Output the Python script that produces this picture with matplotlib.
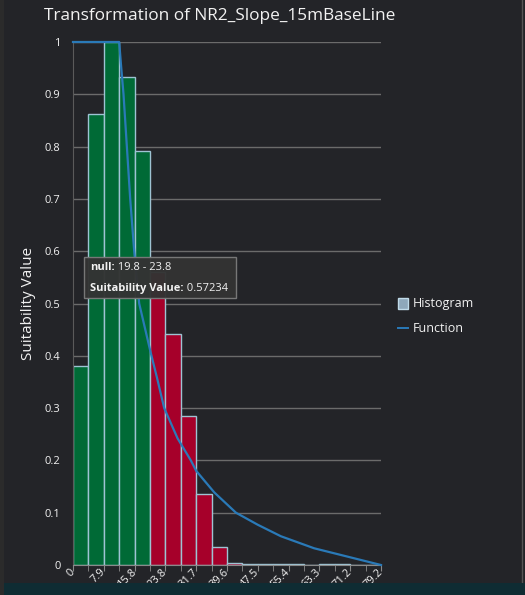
import matplotlib
matplotlib.use("Agg")
import matplotlib.pyplot as plt
from matplotlib.patches import Rectangle
from matplotlib.lines import Line2D
import numpy as np

# histogram: 20 bins over 0 - 79.2
BIN_EDGES = [0, 3.96, 7.92, 11.88, 15.84, 19.8, 23.76, 27.72, 31.68, 35.64, 39.6,
             43.56, 47.52, 51.48, 55.44, 59.4, 63.36, 67.32, 71.28, 75.24, 79.2]
BAR_HEIGHTS = [0.38, 0.862, 1.0, 0.934, 0.792, 0.56, 0.442, 0.285, 0.135, 0.034,
               0.003, 0.001, 0.001, 0.001, 0.001, 0.0, 0.001, 0.001, 0.0, 0.0]
N_GREEN = 5

# transformation function
FUNC_X = [0, 11.88, 12.3, 12.99, 13.85, 14.71, 15.74, 17.02, 19.85, 21.6, 23.45,
          26.9, 30.3, 31.68, 36.3, 41.9, 47.5, 53.45, 62.0, 70.6, 79.2]
FUNC_Y = [1.0, 1.0, 0.96, 0.9, 0.8, 0.7, 0.6, 0.5, 0.41, 0.358, 0.3,
          0.242, 0.2, 0.18, 0.139, 0.1, 0.077, 0.055, 0.032, 0.016, 0.0]

XTICKS = [0, 7.92, 15.84, 23.76, 31.68, 39.6, 47.52, 55.44, 63.36, 71.28, 79.2]
XTICK_LABELS = ["0", "7.9", "15.8", "23.8", "31.7", "39.6", "47.5", "55.4", "63.3", "71.2", "79.2"]
YTICKS = [0, 0.1, 0.2, 0.3, 0.4, 0.5, 0.6, 0.7, 0.8, 0.9, 1.0]
YTICK_LABELS = ["0", "0.1", "0.2", "0.3", "0.4", "0.5", "0.6", "0.7", "0.8", "0.9", "1"]

BG = "#232428"
GREEN = "#006a36"
RED = "#a6002a"
EDGE = "#9ec3d3"
LINE = "#2a7ab8"
GRID = "#6b6b6b"
TXT = "#f2f2f2"

plt.rcParams["font.family"] = ["Open Sans", "DejaVu Sans"]

W, H = 525, 595
fig = plt.figure(figsize=(W / 100, H / 100), dpi=100, facecolor=BG)


def px(x0, y0, x1, y1):
    # pixel box (top-left origin) -> figure fraction rect
    return [x0 / W, 1 - y1 / H, (x1 - x0) / W, (y1 - y0) / H]


ax = fig.add_axes(px(73, 42, 381, 565))
ax.set_facecolor(BG)

widths = np.diff(BIN_EDGES)
colors = [GREEN if i < N_GREEN else RED for i in range(len(BAR_HEIGHTS))]
ax.bar(BIN_EDGES[:-1], BAR_HEIGHTS, width=widths, align="edge", color=colors,
       edgecolor=EDGE, linewidth=1.0, zorder=2)
ax.plot(FUNC_X, FUNC_Y, color=LINE, lw=1.6, zorder=3, clip_on=False)

ax.set_xlim(0, 79.2)
ax.set_ylim(0, 1)
ax.set_yticks(YTICKS)
ax.set_yticklabels(YTICK_LABELS)
ax.set_xticks(BIN_EDGES, minor=True)
ax.set_xticks(XTICKS)
ax.set_xticklabels(XTICK_LABELS, rotation=45, ha="right", va="center", rotation_mode="anchor")
ax.tick_params(axis="y", length=0, pad=9, labelsize=8, labelcolor=TXT)
ax.tick_params(axis="x", which="both", length=4, color="#8a8a8a", pad=0,
               labelsize=8, labelcolor=TXT)
ax.grid(axis="y", color=GRID, lw=1, zorder=1)
for s in ["top", "right"]:
    ax.spines[s].set_visible(False)
ax.spines["left"].set_color("#5a5a5a")
ax.spines["bottom"].set_color("#8a8a8a")
ax.set_ylabel("Suitability Value", color=TXT, fontsize=11, labelpad=6)

fig.text(220 / W, 1 - 16 / H, "Transformation of NR2_Slope_15mBaseLine",
         color=TXT, fontsize=12.4, ha="center", va="center")

# legend
fig.patches.append(Rectangle((398 / W, 1 - 309 / H), 10 / W, 11 / H, transform=fig.transFigure,
                             facecolor="#8ea8bb", edgecolor="#c0dbe9", lw=1))
fig.text(413 / W, 1 - 304 / H, "Histogram", color=TXT, fontsize=9, va="center")
fig.lines.append(Line2D([398 / W, 408 / W], [1 - 328 / H, 1 - 328 / H],
                        transform=fig.transFigure, color=LINE, lw=1.4))
fig.text(413 / W, 1 - 328 / H, "Function", color=TXT, fontsize=9, va="center")

# hover tooltip
fig.patches.append(Rectangle(px(84, 257, 236, 298)[:2], 152 / W, 41 / H, transform=fig.transFigure,
                             facecolor="#333333", edgecolor="#7a7a7a", lw=1, alpha=0.97, zorder=5))
fig.canvas.draw()
rend = fig.canvas.get_renderer()
for ypix, bold, normal in [(268, "null:", " 19.8 - 23.8"), (288, "Suitability Value:", " 0.57234")]:
    t = fig.text(90 / W, 1 - ypix / H, bold, color=TXT, fontsize=8, weight="bold",
                 va="center", zorder=6)
    bb = t.get_window_extent(rend)
    fig.text(bb.x1 / W, 1 - ypix / H, normal, color=TXT, fontsize=8, va="center", zorder=6)

# window chrome: bottom band, left strip, right border
fig.patches.append(Rectangle((0, 0), 1, 12 / H, transform=fig.transFigure,
                             facecolor="#0f2c33", edgecolor="none", zorder=10))
fig.patches.append(Rectangle((0, 0), 4 / W, 1, transform=fig.transFigure,
                             facecolor="#2b2b2b", edgecolor="none", zorder=10))
fig.lines.append(Line2D([522 / W, 522 / W], [12 / H, 1], transform=fig.transFigure,
                        color="#555555", lw=1, zorder=10))

fig.savefig("out.png", dpi=100, facecolor=BG)
